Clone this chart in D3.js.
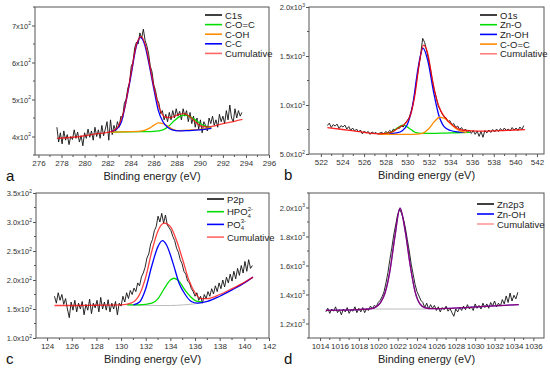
<!DOCTYPE html>
<html><head><meta charset="utf-8">
<script src="https://cdn.jsdelivr.net/npm/d3@7"></script>
<style>
html,body{margin:0;padding:0;background:#fff;}
svg{display:block;font-family:"Liberation Sans",Arial,sans-serif;}
</style></head>
<body><svg id="chart" width="550" height="371"></svg>
<script>
// ---------- DATA ----------
// Panel a : C1s
const aStart = 277.6, aStep = 0.15;
const aC1s = [425,385,410,380,415,390,405,378,400,392,418,395,412,385,402,375,410,395,420,398,415,390,425,400,418,395,430,402,420,440,390,445,405,430,415,440,425,455,450,490,500,530,545,590,600,640,655,650,680,665,690,660,645,625,590,575,540,525,500,490,462,470,445,460,440,465,445,470,450,475,455,468,445,475,455,470,440,465,435,455,425,450,420,445,410,440,430,415,450,435,455,430,445,425,460,440,455,435,470,445,485,450,440,475,450,470,455,465];
const aCOC = [[282.3,412],[285,413],[286,414],[286.8,418],[287.3,428],[287.8,443],[288.3,455],[288.65,458],[289,456],[289.5,447],[290,436],[290.5,428],[291,424]];
const aCOH = [[282.3,412],[284,413],[285,415],[285.6,422],[286,430],[286.4,437],[286.8,435],[287.2,428],[287.6,420],[288,416],[289,417],[290,419],[291,423]];
const aCC = [[282.3,413],[282.8,420],[283.2,440],[283.6,495],[284,560],[284.5,645],[284.85,668],[285.2,650],[285.6,595],[286,530],[286.4,470],[286.8,440],[287.2,425],[287.6,418],[288.2,415],[289,416],[290,418],[291,422]];
const aCum = [[277.6,395],[279,398],[280,402],[281,407],[282,411],[282.5,415],[283,432],[283.5,480],[284,565],[284.5,648],[284.9,670],[285.3,645],[285.7,585],[286,536],[286.5,476],[287,452],[287.5,451],[288,458],[288.6,462],[289.2,452],[289.7,437],[290.2,427],[290.7,426],[291.2,428],[292,435],[293,441],[293.7,446]];
const aXTicks = [276,278,280,282,284,286,288,290,292,294,296];
const aYTicks = [400,500,600,700];
const aYLabels = [["4x10","2"],["5x10","2"],["6x10","2"],["7x10","2"]];
const aLegend = ["C1s","C-O=C","C-OH","C-C","Cumulative"];

// Panel b : O1s
const bStart = 522.6, bStep = 0.18;
const bO1s = [790,815,770,800,785,805,760,790,775,795,755,780,740,765,735,755,725,745,705,735,715,730,700,725,710,720,700,715,720,705,730,715,740,725,755,745,770,760,790,775,815,840,870,930,1010,1120,1260,1390,1520,1680,1640,1560,1470,1370,1250,1150,1080,990,950,910,880,870,830,840,800,810,770,785,750,770,735,755,720,745,710,740,700,735,680,730,670,740,715,745,720,750,725,755,730,760,735,765,740,755,735,770,745,765,740,775,750,790];
const bZnO = [[527.5,705],[528.5,720],[529,760],[529.6,795],[530.2,760],[530.7,722],[531.3,710],[532,710],[533,712],[534,715],[535,718],[535.8,720]];
const bZnOH = [[528.3,705],[529,715],[529.5,735],[530,800],[530.5,1000],[531,1380],[531.45,1580],[531.9,1450],[532.4,1150],[532.9,900],[533.4,780],[534,740],[534.6,725],[535.3,720]];
const bCOC = [[527.4,702],[529,700],[530.5,700],[531.3,708],[532,760],[532.5,830],[533,875],[533.5,860],[534,810],[534.5,760],[535,730],[535.5,720]];
const bCum = [[522.6,770],[524,750],[525,735],[526,720],[527,708],[527.5,705],[528.5,720],[529.3,775],[529.8,810],[530.3,900],[530.7,1100],[531.1,1420],[531.5,1610],[531.9,1520],[532.3,1270],[532.7,1060],[533.1,940],[533.5,870],[534,810],[534.5,770],[535,745],[536,735],[537,733],[538,735],[539,740],[540,745],[540.9,748]];
const bXTicks = [522,524,526,528,530,532,534,536,538,540,542];
const bYTicks = [500,1000,1500,2000];
const bYLabels = [["5.0x10","2"],["1.0x10","3"],["1.5x10","3"],["2.0x10","3"]];
const bLegend = ["O1s","Zn-O","Zn-OH","C-O=C","Cumulative"];

// Panel c : P2p
const cStart = 124.6, cStep = 0.15;
const cP2p = [172,160,178,165,175,158,168,150,135,162,148,165,145,160,150,163,140,158,148,167,142,160,152,165,145,170,150,162,148,166,145,160,150,163,140,160,155,172,162,178,168,182,175,186,180,195,190,205,212,222,238,245,262,270,285,292,310,300,315,298,312,295,290,285,275,268,255,248,235,228,215,210,198,195,185,180,172,178,165,172,160,175,168,180,172,185,176,190,180,195,185,200,188,205,195,210,198,215,202,220,208,225,212,232,215,235,220,225];
const cBase = [[130.5,157],[132,156.5],[133,156],[134,156],[135,157],[136,159],[136.6,161]];
const cHPO = [[130.5,157],[131.5,157],[132.5,160],[133,168],[133.5,185],[134,200],[134.3,203],[134.7,198],[135.2,182],[135.7,170],[136.2,163],[136.6,162]];
const cPO = [[131,157],[131.5,162],[132,185],[132.5,225],[133,258],[133.35,268],[133.7,260],[134.2,230],[134.7,195],[135.2,175],[135.7,163],[136.2,160],[137,163],[138,172],[139,183],[140,195],[140.7,205]];
const cCum = [[124.6,156],[126,156],[128,156.5],[130,157],[130.8,160],[131.5,175],[132,205],[132.5,250],[133,285],[133.5,298],[134,292],[134.5,268],[135,235],[135.5,200],[136,178],[136.5,168],[137,168],[138,175],[139,185],[140,196],[140.7,205]];
const cXTicks = [124,126,128,130,132,134,136,138,140,142];
const cYTicks = [100,150,200,250,300,350];
const cYLabels = [["1.0x10","2"],["1.5x10","2"],["2.0x10","2"],["2.5x10","2"],["3.0x10","2"],["3.5x10","2"]];

// Panel d : Zn2p3
const dStart = 1014.6, dStep = 0.2;
const dZn = [1280,1305,1270,1300,1285,1315,1275,1295,1260,1300,1280,1310,1270,1295,1285,1315,1275,1305,1280,1310,1275,1300,1290,1320,1300,1325,1315,1345,1360,1385,1420,1480,1550,1640,1720,1810,1880,1950,1990,1960,1920,1860,1780,1700,1610,1540,1470,1420,1390,1360,1345,1310,1340,1300,1330,1305,1325,1290,1315,1280,1310,1295,1320,1285,1305,1275,1250,1300,1280,1310,1290,1320,1295,1330,1300,1315,1290,1335,1305,1325,1300,1340,1310,1335,1305,1345,1320,1355,1315,1340,1320,1365,1335,1390,1345,1410,1355,1395,1370,1415];
const dBase = [[1019.5,1300],[1022,1300],[1025,1300]];
const dFit = [[1014.6,1290],[1016,1292],[1018,1296],[1019,1300],[1019.6,1308],[1020.2,1340],[1020.7,1410],[1021.2,1560],[1021.7,1790],[1022.25,1995],[1022.8,1830],[1023.3,1600],[1023.8,1420],[1024.3,1335],[1024.8,1310],[1025.5,1302],[1027,1304],[1029,1310],[1031,1318],[1033,1325],[1034.5,1330]];
const dXTicks = [1014,1016,1018,1020,1022,1024,1026,1028,1030,1032,1034,1036];
const dYTicks = [1200,1400,1600,1800,2000];
const dYLabels = [["1.2x10","3"],["1.4x10","3"],["1.6x10","3"],["1.8x10","3"],["2.0x10","3"]];
const dLegend = ["Zn2p3","Zn-OH","Cumulative"];

// ---------- DRAWING ----------
const COL = {black:"#111", green:"#00dd00", orange:"#ff8c00", blue:"#0000ff", red:"#ff0000", gray:"#bbbbbb"};
const svg = d3.select("#chart");
const toPts = (start, step, arr) => arr.map((v,i)=>[start+step*i, v]);

function panel(cfg){
  const x = d3.scaleLinear().domain(cfg.xDom).range(cfg.xr);
  const y = d3.scaleLinear().domain(cfg.yDom).range(cfg.yr);
  const g = svg.append("g");
  const clipId = "clip"+cfg.letter;
  svg.append("clipPath").attr("id",clipId).append("rect")
    .attr("x",cfg.xr[0]).attr("y",cfg.yr[1]).attr("width",cfg.xr[1]-cfg.xr[0]).attr("height",cfg.yr[0]-cfg.yr[1]);
  const pg = g.append("g").attr("clip-path",`url(#${clipId})`);
  const lineRaw = d3.line().x(d=>x(d[0])).y(d=>y(d[1]));
  const lineSmooth = d3.line().x(d=>x(d[0])).y(d=>y(d[1])).curve(d3.curveMonotoneX);
  // data
  pg.append("path").attr("d",lineRaw(cfg.data)).attr("fill","none").attr("stroke",COL.black).attr("stroke-width",0.9);
  cfg.curves.forEach(c=>{
    pg.append("path").attr("d",lineSmooth(c.pts)).attr("fill","none")
      .attr("stroke",c.color).attr("stroke-width",c.w||1.3).attr("stroke-opacity",c.op||1);
  });
  // frame
  g.append("rect").attr("x",cfg.xr[0]).attr("y",cfg.yr[1]).attr("width",cfg.xr[1]-cfg.xr[0]).attr("height",cfg.yr[0]-cfg.yr[1])
    .attr("fill","none").attr("stroke","#555").attr("stroke-width",1);
  // x axis
  const xa = g.append("g").attr("transform",`translate(0,${cfg.yr[0]})`)
    .call(d3.axisBottom(x).tickValues(cfg.xTicks).tickSize(3).tickPadding(2).tickFormat(d3.format("d")));
  xa.select(".domain").remove();
  xa.selectAll("line").attr("stroke","#555");
  xa.selectAll("text").attr("font-size",8).attr("fill","#333").attr("font-family","Liberation Sans, Arial, sans-serif");
  const xm = [];
  for(let i=0;i<cfg.xTicks.length-1;i++) xm.push((cfg.xTicks[i]+cfg.xTicks[i+1])/2);
  g.append("g").selectAll("line").data(xm.filter(v=>x(v)>=cfg.xr[0]&&x(v)<=cfg.xr[1])).join("line")
    .attr("x1",d=>x(d)).attr("x2",d=>x(d)).attr("y1",cfg.yr[0]).attr("y2",cfg.yr[0]+2).attr("stroke","#555");
  // y axis
  const ya = g.append("g").attr("transform",`translate(${cfg.xr[0]},0)`)
    .call(d3.axisLeft(y).tickValues(cfg.yTicks).tickSize(3).tickFormat(""));
  ya.select(".domain").remove();
  ya.selectAll("line").attr("stroke","#555");
  const ym = [];
  for(let i=0;i<cfg.yTicks.length-1;i++) ym.push((cfg.yTicks[i]+cfg.yTicks[i+1])/2);
  ym.push(cfg.yTicks[0]-(cfg.yTicks[1]-cfg.yTicks[0])/2);
  ym.push(cfg.yTicks[cfg.yTicks.length-1]+(cfg.yTicks[1]-cfg.yTicks[0])/2);
  g.append("g").selectAll("line").data(ym.filter(v=>y(v)<=cfg.yr[0]&&y(v)>=cfg.yr[1])).join("line")
    .attr("x1",cfg.xr[0]-2).attr("x2",cfg.xr[0]).attr("y1",d=>y(d)).attr("y2",d=>y(d)).attr("stroke","#555");
  cfg.yTicks.forEach((v,i)=>{
    const t = g.append("text").attr("x",cfg.xr[0]-4).attr("y",y(v)+3).attr("text-anchor","end")
      .attr("font-size",7.5).attr("fill","#333");
    t.append("tspan").text(cfg.yLabels[i][0]);
    t.append("tspan").attr("dy",-3.5).attr("font-size",5).text(cfg.yLabels[i][1]);
  });
  // axis title & letter
  g.append("text").attr("x",(cfg.xr[0]+cfg.xr[1])/2).attr("y",cfg.yr[0]+25).attr("text-anchor","middle")
    .attr("font-size",11).attr("fill","#222").text("Binding energy (eV)");
  g.append("text").attr("x",cfg.letterX).attr("y",cfg.yr[0]+26).attr("font-size",15).attr("fill","#111").text(cfg.letter);
  // legend
  cfg.legend.forEach((it,i)=>{
    const yy = cfg.legY + i*cfg.legDy[i];
    g.append("line").attr("x1",cfg.legX).attr("x2",cfg.legX+17).attr("y1",yy).attr("y2",yy)
      .attr("stroke",it.color).attr("stroke-width",1.6).attr("stroke-opacity",it.op||1);
    const t = g.append("text").attr("x",cfg.legX+20).attr("y",yy+3.5).attr("font-size",9.5).attr("fill","#222");
    if(it.parts){
      t.append("tspan").text(it.parts[0]);
      t.append("tspan").attr("dy",2.5).attr("font-size",6).text(it.parts[1]);
      t.append("tspan").attr("dx",-3.3).attr("dy",-7).attr("font-size",6).text(it.parts[2]);
    } else t.text(it.name);
  });
}

panel({letter:"a", letterX:6, xr:[35,269], yr:[155,7], xDom:[275.7,296], yDom:[350,750],
  xTicks:aXTicks, yTicks:aYTicks, yLabels:aYLabels,
  data:toPts(aStart,aStep,aC1s),
  curves:[{pts:aCOC,color:COL.green},{pts:aCOH,color:COL.orange},{pts:aCC,color:COL.blue},{pts:aCum,color:COL.red,op:0.75}],
  legX:205, legY:15, legDy:[9.6,9.6,9.6,9.6,9.6],
  legend:[{name:aLegend[0],color:COL.black},{name:aLegend[1],color:COL.green},{name:aLegend[2],color:COL.orange},{name:aLegend[3],color:COL.blue},{name:aLegend[4],color:COL.red,op:0.6}]
});
panel({letter:"b", letterX:284, xr:[309,544], yr:[154,7], xDom:[520.9,542.65], yDom:[500,2000],
  xTicks:bXTicks, yTicks:bYTicks, yLabels:bYLabels,
  data:toPts(bStart,bStep,bO1s),
  curves:[{pts:bZnO,color:COL.green},{pts:bZnOH,color:COL.blue},{pts:bCOC,color:COL.orange},{pts:bCum,color:COL.red,op:0.85}],
  legX:480, legY:15, legDy:[9.7,9.7,9.7,9.7,9.7],
  legend:[{name:bLegend[0],color:COL.black},{name:bLegend[1],color:COL.green},{name:bLegend[2],color:COL.blue},{name:bLegend[3],color:COL.orange},{name:bLegend[4],color:COL.red,op:0.5}]
});
panel({letter:"c", letterX:6, xr:[36,269], yr:[338,193], xDom:[123.1,142], yDom:[100,350],
  xTicks:cXTicks, yTicks:cYTicks, yLabels:cYLabels,
  data:toPts(cStart,cStep,cP2p),
  curves:[{pts:cBase,color:COL.gray,w:1},{pts:cHPO,color:COL.green},{pts:cPO,color:COL.blue},{pts:cCum,color:COL.red,op:0.75}],
  legX:207, legY:199, legDy:[12.7,12.7,12.7,12.7],
  legend:[{name:"P2p",color:COL.black},{parts:["HPO","4","2-"],color:COL.green},{parts:["PO","4","3-"],color:COL.blue},{name:"Cumulative",color:COL.red,op:0.6}]
});
panel({letter:"d", letterX:284, xr:[309,544], yr:[338,193], xDom:[1012.86,1037.1], yDom:[1100,2100],
  xTicks:dXTicks, yTicks:dYTicks, yLabels:dYLabels,
  data:toPts(dStart,dStep,dZn),
  curves:[{pts:dBase,color:COL.gray,w:1},{pts:dFit,color:COL.blue},{pts:dFit,color:COL.red,op:0.55}],
  legX:477, legY:204, legDy:[10,10,10],
  legend:[{name:dLegend[0],color:COL.black},{name:dLegend[1],color:COL.blue},{name:dLegend[2],color:COL.red,op:0.4}]
});
</script></body></html>
